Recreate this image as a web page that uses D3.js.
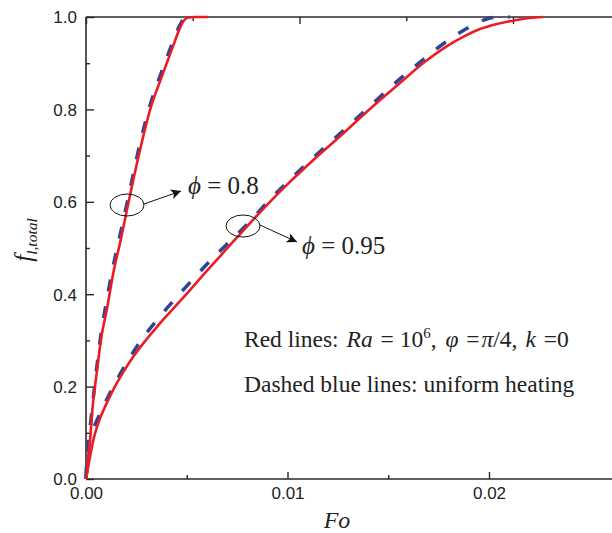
<!DOCTYPE html>
<html>
<head>
<meta charset="utf-8">
<script src="https://cdn.jsdelivr.net/npm/d3@7"></script>
<style>
  html, body { margin: 0; padding: 0; background: #fff; }
  svg { display: block; }
</style>
</head>
<body>
<svg id="chart" width="612" height="533"></svg>
<script>
// ---------- data ----------
const redPhi08Fo = [0, 0.00003, 0.00011, 0.0002, 0.00033, 0.00053, 0.00074, 0.00106, 0.00135, 0.00172, 0.0021, 0.00238, 0.00276, 0.00318, 0.00376, 0.00437, 0.00466, 0.00485, 0.0051, 0.0054, 0.00605];
const redPhi08F  = [0, 0.005, 0.048, 0.084, 0.156, 0.229, 0.301, 0.373, 0.445, 0.517, 0.597, 0.654, 0.727, 0.799, 0.871, 0.943, 0.976, 0.992, 0.999, 1.0, 1.0];

const bluePhi08Fo = [0, 0.00005, 0.0001, 0.0002, 0.00045, 0.0007, 0.001, 0.0013, 0.0017, 0.00208, 0.0027, 0.00315, 0.0037, 0.0043, 0.0046, 0.0048, 0.00505, 0.0053];
const bluePhi08F  = [0, 0.04, 0.07, 0.11, 0.21, 0.3, 0.38, 0.45, 0.53, 0.605, 0.73, 0.805, 0.875, 0.945, 0.977, 0.993, 1.0, 1.0];

const redPhi95Fo = [0, 0.000114, 0.000199, 0.000362, 0.00061, 0.00094, 0.00135, 0.00182, 0.00235, 0.00298, 0.00367, 0.00442, 0.00516, 0.00591, 0.00665, 0.00739, 0.00814, 0.00913, 0.01012, 0.01112, 0.01261, 0.01409, 0.01558, 0.01682, 0.01792, 0.01881, 0.01955, 0.0204, 0.02119, 0.02203, 0.02268];
const redPhi95F  = [0, 0.028, 0.048, 0.084, 0.121, 0.156, 0.193, 0.229, 0.265, 0.301, 0.337, 0.373, 0.409, 0.446, 0.482, 0.518, 0.554, 0.600, 0.643, 0.684, 0.742, 0.801, 0.857, 0.903, 0.937, 0.959, 0.974, 0.985, 0.992, 0.998, 1.0];

const bluePhi95Fo = [0, 0.000025, 0.0001, 0.0002, 0.0004, 0.00069, 0.00119, 0.00189, 0.00268, 0.00352, 0.00447, 0.00536, 0.00645, 0.00739, 0.00814, 0.00913, 0.01012, 0.01112, 0.01261, 0.01409, 0.01558, 0.01682, 0.01792, 0.01881, 0.01955, 0.02005, 0.02055, 0.02104];
const bluePhi95F  = [0, 0.024, 0.058, 0.089, 0.113, 0.141, 0.186, 0.242, 0.297, 0.344, 0.392, 0.435, 0.485, 0.525, 0.558, 0.605, 0.648, 0.689, 0.748, 0.807, 0.866, 0.911, 0.948, 0.973, 0.990, 0.998, 1.0, 1.0];

const xMajorTicks = [0, 0.01, 0.02];
const xMinorTicks = [0.005, 0.015];
const xTickLabels = ["0.00", "0.01", "0.02"];
const yMajorTicks = [0, 0.2, 0.4, 0.6, 0.8, 1.0];
const yMinorTicks = [0.1, 0.3, 0.5, 0.7, 0.9];
const yTickLabels = ["0.0", "0.2", "0.4", "0.6", "0.8", "1.0"];
const topMajorTicks = [0, 1, 2];
const topMinorTicks = [0.5, 1.5, 2.5];

// ---------- layout ----------
const svg = d3.select("#chart");
const L = 86, T = 17, B = 479;
const x = d3.scaleLinear().domain([0, 0.03]).range([L, L + 3 * 201.5]);
const y = d3.scaleLinear().domain([0, 1]).range([B, T]);
const xTop = d3.scaleLinear().domain([0, 1]).range([L, L + 213.5]);

const axisColor = "#2a2a2a";
const sans = "'Liberation Sans', Arial, sans-serif";
const serif = "'Liberation Serif', 'Times New Roman', serif";

// frame lines
const frame = svg.append("g").attr("stroke", axisColor).attr("stroke-width", 1.6).attr("fill", "none");
frame.append("line").attr("x1", L).attr("x2", L).attr("y1", T).attr("y2", B);
frame.append("line").attr("x1", L).attr("x2", 620).attr("y1", B).attr("y2", B);
frame.append("line").attr("x1", L).attr("x2", 620).attr("y1", T).attr("y2", T);

// bottom axis (ticks inward)
const xAxis = d3.axisBottom(x).tickValues(xMajorTicks).tickSizeInner(-7).tickSizeOuter(0)
  .tickFormat((d, i) => xTickLabels[i]);
const gx = svg.append("g").attr("transform", `translate(0,${B})`).call(xAxis);
gx.select(".domain").remove();
gx.selectAll(".tick line").attr("stroke", axisColor).attr("stroke-width", 1.4);
gx.selectAll(".tick text").attr("font-family", sans).attr("font-size", 17).attr("fill", "#222").attr("dy", 0).attr("y", 20);

const xMinor = d3.axisBottom(x).tickValues(xMinorTicks).tickSizeInner(-4).tickSizeOuter(0).tickFormat("");
const gxm = svg.append("g").attr("transform", `translate(0,${B})`).call(xMinor);
gxm.select(".domain").remove();
gxm.selectAll(".tick line").attr("stroke", axisColor).attr("stroke-width", 1.4);

// left axis
const yAxis = d3.axisLeft(y).tickValues(yMajorTicks).tickSizeInner(-8).tickSizeOuter(0)
  .tickFormat((d, i) => yTickLabels[i]);
const gy = svg.append("g").attr("transform", `translate(${L},0)`).call(yAxis);
gy.select(".domain").remove();
gy.selectAll(".tick line").attr("stroke", axisColor).attr("stroke-width", 1.4);
gy.selectAll(".tick text").attr("font-family", sans).attr("font-size", 17).attr("fill", "#222").attr("x", -9).attr("dy", "0.35em");

const yMinor = d3.axisLeft(y).tickValues(yMinorTicks).tickSizeInner(-4).tickSizeOuter(0).tickFormat("");
const gym = svg.append("g").attr("transform", `translate(${L},0)`).call(yMinor);
gym.select(".domain").remove();
gym.selectAll(".tick line").attr("stroke", axisColor).attr("stroke-width", 1.4);

// top axis (ticks inward, no labels)
const topAxis = d3.axisTop(xTop).tickValues(topMajorTicks).tickSizeInner(-7).tickSizeOuter(0).tickFormat("");
const gt = svg.append("g").attr("transform", `translate(0,${T})`).call(topAxis);
gt.select(".domain").remove();
gt.selectAll(".tick line").attr("stroke", axisColor).attr("stroke-width", 1.4);
const topMinor = d3.axisTop(xTop).tickValues(topMinorTicks).tickSizeInner(-4).tickSizeOuter(0).tickFormat("");
const gtm = svg.append("g").attr("transform", `translate(0,${T})`).call(topMinor);
gtm.select(".domain").remove();
gtm.selectAll(".tick line").attr("stroke", axisColor).attr("stroke-width", 1.4);

// ---------- curves ----------
const line = d3.line().x(d => x(d[0])).y(d => y(d[1])).curve(d3.curveMonotoneX);
const zip = (a, b) => a.map((v, i) => [v, b[i]]);

const blueColor = "#2d4596";
const redColor = "#ec1c24";

svg.append("path").datum(zip(bluePhi08Fo, bluePhi08F)).attr("d", line)
  .attr("fill", "none").attr("stroke", blueColor).attr("stroke-width", 3.5).attr("stroke-dasharray", "12,15");
svg.append("path").datum(zip(bluePhi95Fo, bluePhi95F)).attr("d", line)
  .attr("fill", "none").attr("stroke", blueColor).attr("stroke-width", 3.5).attr("stroke-dasharray", "12,15");

svg.append("path").datum(zip(redPhi08Fo, redPhi08F)).attr("d", line)
  .attr("fill", "none").attr("stroke", redColor).attr("stroke-width", 2.6);
svg.append("path").datum(zip(redPhi95Fo, redPhi95F)).attr("d", line)
  .attr("fill", "none").attr("stroke", redColor).attr("stroke-width", 2.6);

// ---------- annotations ----------
const defs = svg.append("defs");
defs.append("marker").attr("id", "arr").attr("viewBox", "0 0 10 10").attr("refX", 10).attr("refY", 5)
  .attr("markerWidth", 13).attr("markerHeight", 10).attr("markerUnits", "userSpaceOnUse").attr("orient", "auto")
  .append("path").attr("d", "M0,0 L10,5 L0,10 L2.5,5 Z").attr("fill", "#111");

function annot(cx, cy, x2, y2, tx, ty, label) {
  svg.append("ellipse").attr("cx", cx).attr("cy", cy).attr("rx", 17).attr("ry", 11)
    .attr("fill", "none").attr("stroke", "#111").attr("stroke-width", 1);
  svg.append("line").attr("x1", cx + 17).attr("y1", cy - 1).attr("x2", x2).attr("y2", y2)
    .attr("stroke", "#111").attr("stroke-width", 1).attr("marker-end", "url(#arr)");
  const t = svg.append("text").attr("x", tx).attr("y", ty).attr("font-family", serif).attr("font-size", 25).attr("fill", "#222");
  t.append("tspan").attr("font-style", "italic").text("ϕ");
  t.append("tspan").text(" = " + label);
}
annot(127, 205, 181, 191, 188, 194, "0.8");
annot(243, 226, 297, 242, 302, 254, "0.95");

// legend text
const legendSize = 23.5;
const t1 = svg.append("text").attr("x", 244).attr("y", 347).attr("font-family", serif).attr("font-size", legendSize).attr("fill", "#222");
t1.append("tspan").text("Red lines: ");
t1.append("tspan").attr("font-style", "italic").attr("dx", 2).text("Ra");
t1.append("tspan").attr("dx", 2).text(" = 10");
t1.append("tspan").attr("font-size", 15).attr("dy", -9).text("6");
t1.append("tspan").attr("dy", 9).text(", ");
t1.append("tspan").attr("font-style", "italic").attr("dx", 3).text("φ");
t1.append("tspan").attr("dx", 2).text(" =");
t1.append("tspan").attr("font-style", "italic").attr("dx", 2).text("π");
t1.append("tspan").text("/4, ");
t1.append("tspan").attr("font-style", "italic").attr("dx", 2).text("k");
t1.append("tspan").attr("dx", 2).text(" =0");

svg.append("text").attr("x", 244).attr("y", 392).attr("font-family", serif).attr("font-size", legendSize).attr("fill", "#222")
  .text("Dashed blue lines: uniform heating");

// axis titles
svg.append("text").attr("x", 337).attr("y", 528).attr("text-anchor", "middle")
  .attr("font-family", serif).attr("font-style", "italic").attr("font-size", 24).attr("fill", "#222").text("Fo");

const yl = svg.append("text").attr("transform", "translate(32,240) rotate(-90)").attr("text-anchor", "middle")
  .attr("font-family", serif).attr("font-style", "italic").attr("fill", "#222");
yl.append("tspan").attr("font-size", 25).text("f");
yl.append("tspan").attr("font-size", 15.5).attr("dy", 5).text("l,total");
</script>
</body>
</html>
